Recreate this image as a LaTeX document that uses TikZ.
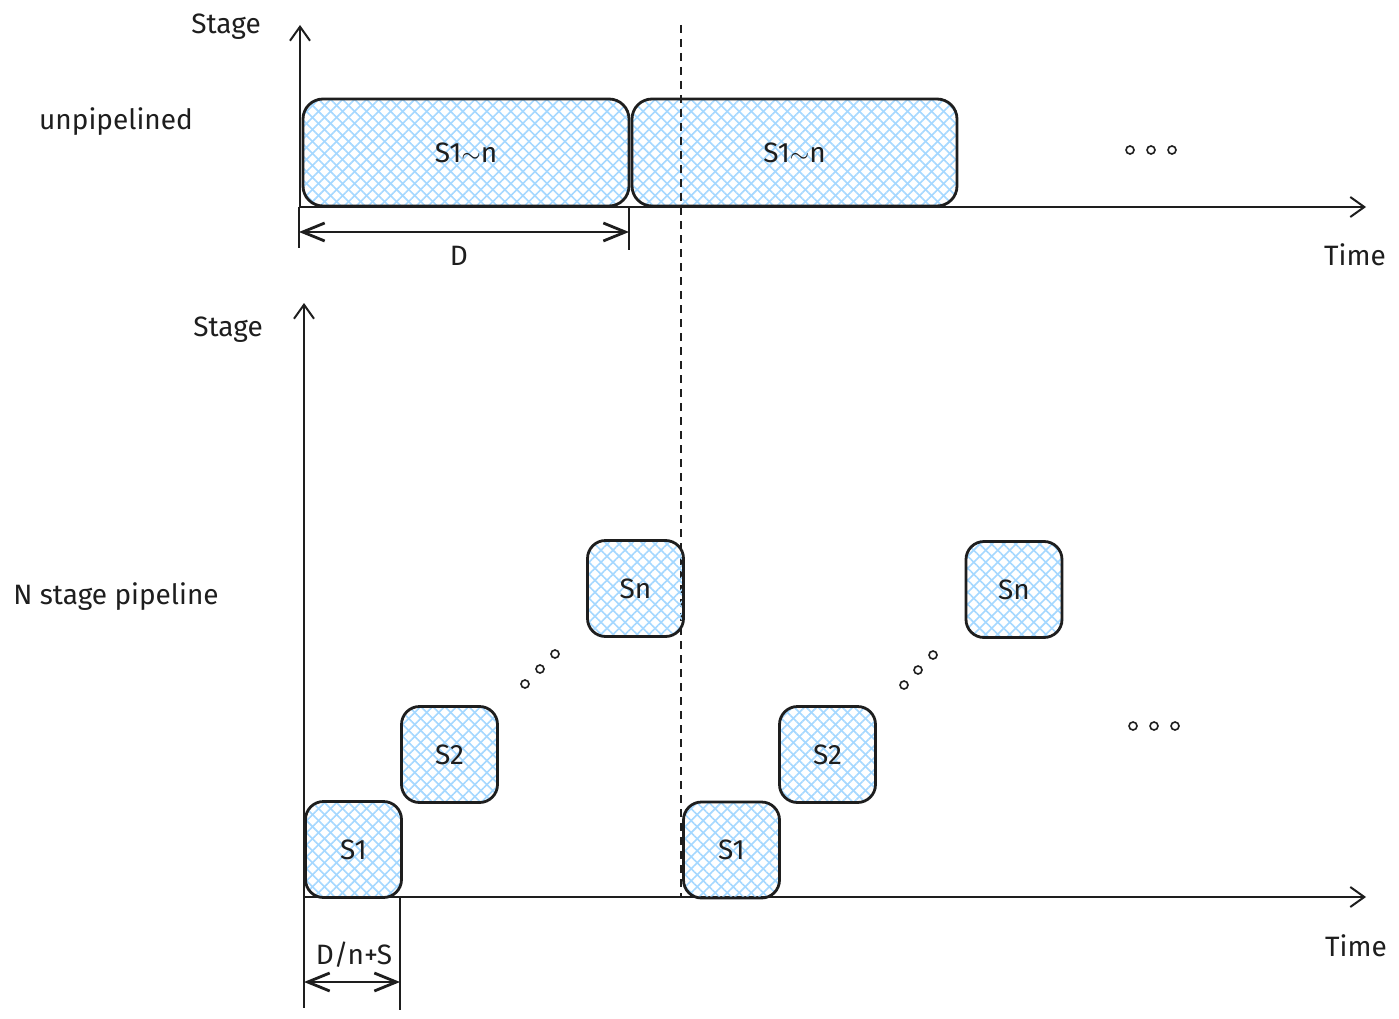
\documentclass[tikz,border=0pt]{standalone}
\usepackage{fontspec}
\setmainfont{Fira Sans}
\usetikzlibrary{arrows.meta,patterns.meta}
\definecolor{hatch}{HTML}{A5D8FF}
\definecolor{ink}{HTML}{1E1E1E}
\tikzset{
 lbl/.style={font=\fontsize{28}{32}\selectfont, text=ink, inner sep=0pt},
 stagebox/.style={draw=ink, line width=2.8pt, rounded corners=18pt, minimum width=96pt, minimum height=96pt, inner sep=0pt,
   font=\fontsize{28}{32}\selectfont, text=ink,
   preaction={pattern={Lines[angle=45,distance=8.5pt,line width=1.6pt]}, pattern color=hatch},
   preaction={pattern={Lines[angle=-45,distance=8.5pt,line width=1.6pt]}, pattern color=hatch}},
 axisline/.style={draw=ink, line width=2pt, -{Straight Barb[length=14pt,width=20pt,line width=2pt]}},
 dimline/.style={draw=ink, line width=2.8pt, {Straight Barb[length=22pt,width=18pt,line width=2.8pt]}-{Straight Barb[length=22pt,width=18pt,line width=2.8pt]}},
 tickline/.style={draw=ink, line width=2.2pt},
 dotmark/.style={circle, draw=ink, line width=1.6pt, minimum size=8pt, inner sep=0pt},
 dashline/.style={draw=ink, line width=2pt, dash pattern=on 8pt off 6pt},
}
\begin{document}
\begin{tikzpicture}[x=1pt,y=-1pt]
\useasboundingbox[fill=white] (0,0) rectangle (1399,1019);

% ---------- top: unpipelined ----------
\coordinate (o1) at (300,207);
\coordinate (y1) at (300,25);
\coordinate (t1) at (1366,207);
\draw[axisline] (o1) -- (y1);
\draw[axisline] (o1) -- (t1);
\node[lbl] (stage1) at (226,27) {Stage};
\node[lbl] (unp) at (116,122) {unpipelined};
\node[lbl] (time1) at (1355,255) {Time};

\node[stagebox, minimum width=326pt, minimum height=107pt, rounded corners=20pt] (u1) at (466,152.5) {S1$\sim$n};
\node[stagebox, minimum width=325pt, minimum height=107pt, rounded corners=20pt] (u2) at (794.5,152.5) {S1$\sim$n};

\node[dotmark] (ud1) at (1130,150) {};
\node[dotmark] (ud2) at (1151,150) {};
\node[dotmark] (ud3) at (1172,150) {};

\coordinate (da) at (299,207);
\coordinate (db) at (299,248);
\coordinate (dc) at (629,207);
\coordinate (dd) at (629,250);
\draw[tickline] (da) -- (db);
\draw[tickline] (dc) -- (dd);
\coordinate (dl) at (299,232);
\coordinate (dr) at (629,232);
\draw[dimline] (dl) -- (dr);
\node[lbl] (dlab) at (459,256) {D};

% ---------- dashed divider ----------
\coordinate (v1) at (681,25);
\coordinate (v2) at (681,897);
\draw[dashline] (v1) -- (v2);

% ---------- bottom: pipeline ----------
\coordinate (o2) at (304,897);
\coordinate (y2) at (304,303);
\coordinate (t2) at (1366,897);
\draw[axisline] (o2) -- (y2);
\draw[axisline] (o2) -- (t2);
\node[lbl] (stage2) at (228,330) {Stage};
\node[lbl] (npl) at (116,597) {N stage pipeline};
\node[lbl] (time2) at (1356,946) {Time};

\node[stagebox] (a1) at (353.5,849.5) {S1};
\node[stagebox] (a2) at (449.5,754.5) {S2};
\node[stagebox] (an) at (635.5,588.5) {Sn};
\node[dotmark] (ad1) at (525,684) {};
\node[dotmark] (ad2) at (540,669) {};
\node[dotmark] (ad3) at (555,654) {};

\node[stagebox] (b1) at (731.5,850) {S1};
\node[stagebox] (b2) at (827.5,754.5) {S2};
\node[stagebox] (bn) at (1014,589.5) {Sn};
\node[dotmark] (bd1) at (904,685) {};
\node[dotmark] (bd2) at (918,670) {};
\node[dotmark] (bd3) at (933,655) {};

\node[dotmark] (rd1) at (1133,726) {};
\node[dotmark] (rd2) at (1154,726) {};
\node[dotmark] (rd3) at (1175,726) {};

\coordinate (ea) at (304,897);
\coordinate (eb) at (304,1008);
\coordinate (ec) at (400,897);
\coordinate (ed) at (400,1010);
\draw[tickline] (ea) -- (eb);
\draw[tickline] (ec) -- (ed);
\coordinate (el) at (304,982);
\coordinate (er) at (400,982);
\draw[dimline] (el) -- (er);
\node[lbl] (elab) at (354,955) {D/n+S};
\end{tikzpicture}
\end{document}
